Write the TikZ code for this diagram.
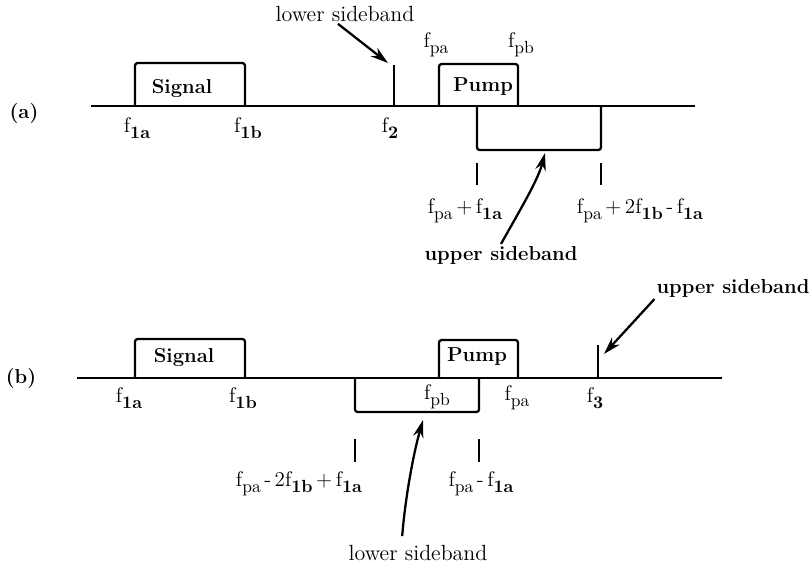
\documentclass[tikz,border=0pt]{standalone}
\usepackage{amsmath}
\usepackage{tikz}
\usetikzlibrary{arrows.meta, positioning}

\tikzset{
  axis/.style={line width=1.5pt},
  band/.style={line width=1.3pt, rounded corners=1.5pt},
  tick/.style={line width=1.1pt},
  pointer/.style={line width=1.3pt, -{Stealth[length=10pt, width=6pt]}},
  lbl/.style={font=\fontsize{12}{13}\selectfont, inner sep=1pt},
  nlbl/.style={font=\fontsize{12.5}{14}\selectfont, inner sep=1pt},
  blbl/.style={inner sep=1pt, font=\fontsize{11.5}{13}\selectfont\bfseries},
}
\newcommand{\fr}[1]{f\raisebox{-0.65ex}{\fontsize{10}{11}\selectfont #1}}
\newcommand{\fb}[1]{f\raisebox{-0.65ex}{\fontsize{10}{11}\selectfont\bfseries #1}}

\begin{document}
\begin{tikzpicture}[x=0.02cm, y=-0.02cm]
\useasboundingbox (0,0) rectangle (811,569);


% (a): sidebands above and below the pump
\node[blbl] (tagA) at (24,113) {(a)};
\draw[axis] (91,106) -- (695,106);

\draw[band] (135,106) -- (135,63) -- (245,63) -- (245,106);
\node[blbl] (sigA) at (182,88) {Signal};
\draw[band] (439,106) -- (439,64) -- (518,64) -- (518,106);
\node[blbl] (pumpA) at (483,87) {Pump};
\draw[band] (477,106) -- (477,150) -- (601,150) -- (601,106);
\draw[axis] (394,106) -- (394,65);

\node[lbl] (f1aA) at (137,128) {\fb{1a}};
\node[lbl] (f1bA) at (248,128) {\fb{1b}};
\node[lbl] (f2A) at (390,128) {\fb{2}};
\node[lbl] (fpaA) at (436,45) {\fr{pa}};
\node[lbl] (fpbA) at (521,45) {\fr{pb}};

\draw[tick] (477,163) -- (477,185);
\draw[tick] (601,163) -- (601,185);
\node[lbl] (sumA) at (465,211) {\fr{pa}\,+\,\fb{1a}};
\node[lbl] (sum2A) at (640,211) {\fr{pa}\,+\,2\fb{1b}\,-\,\fb{1a}};

\node[nlbl] (lsbA) at (345,14) {lower sideband};
\coordinate (lsbAtip) at (388,63);
\draw[pointer] ([xshift=-4pt]lsbA.south) -- (lsbAtip);

\node[blbl] (usbA) at (501,255) {upper sideband};
\coordinate (usbAtip) at (545,153);
\draw[pointer] (usbA.north) .. controls (520,210) and (538,180) .. (usbAtip);


% (b): sidebands either side of the pump
\node[blbl] (tagB) at (21,378) {(b)};
\draw[axis] (77,378) -- (722,378);

\draw[band] (135,378) -- (135,339) -- (245,339) -- (245,378);
\node[blbl] (sigB) at (184,357) {Signal};
\draw[band] (439,378) -- (439,340) -- (518,340) -- (518,378);
\node[blbl] (pumpB) at (477,357) {Pump};
\draw[band] (355,378) -- (355,412) -- (479,412) -- (479,378);
\draw[axis] (598,378) -- (598,345);

\node[lbl] (f1aB) at (129,398) {\fb{1a}};
\node[lbl] (f1bB) at (243,398) {\fb{1b}};
\node[lbl] (fpbB) at (437,397) {\fr{pb}};
\node[lbl] (fpaB) at (517,398) {\fr{pa}};
\node[lbl] (f3B) at (595,398) {\fb{3}};

\draw[tick] (355,439) -- (355,462);
\draw[tick] (479,439) -- (479,462);
\node[lbl] (difB) at (299,484) {\fr{pa}\,-\,2\fb{1b}\,+\,\fb{1a}};
\node[lbl] (dif2B) at (481,484) {\fr{pa}\,-\,\fb{1a}};

\node[blbl] (usbB) at (733,288) {upper sideband};
\coordinate (usbBtip) at (604,354);
\draw[pointer] (usbB.south west) -- (usbBtip);

\node[nlbl] (lsbB) at (418,553) {lower sideband};
\coordinate (lsbBtip) at (423,420);
\draw[pointer] ([xshift=-9pt,yshift=4pt]lsbB.north) .. controls (405,500) and (413,455) .. (lsbBtip);

\end{tikzpicture}
\end{document}
